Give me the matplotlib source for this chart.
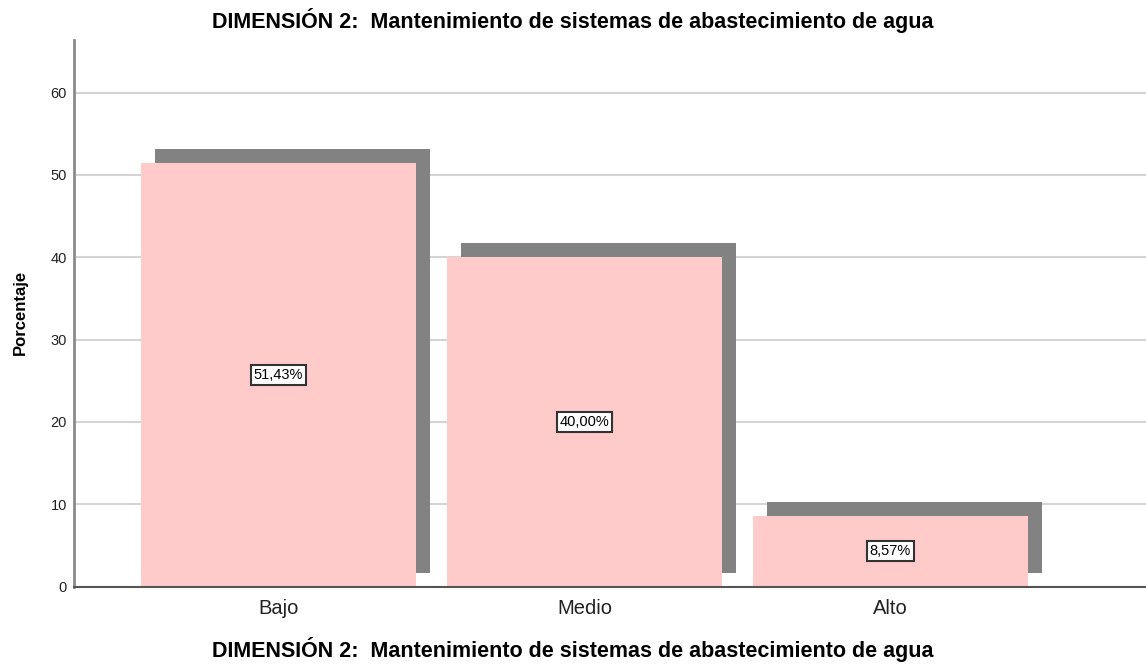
import matplotlib
matplotlib.use("Agg")
import matplotlib.pyplot as plt
from matplotlib.transforms import ScaledTranslation

categories = ["Bajo", "Medio", "Alto"]
values = [51.43, 40.00, 8.57]
labels = ["51,43%", "40,00%", "8,57%"]
yticks = [0, 10, 20, 30, 40, 50, 60]
title = "DIMENSIÓN 2:  Mantenimiento de sistemas de abastecimiento de agua"

plt.rcParams['font.family'] = ['Liberation Sans', 'DejaVu Sans']

fig = plt.figure(figsize=(11.46, 6.66), dpi=100)
ax = fig.add_axes([74/1146, (666-586.5)/666, 1 - 74/1146, (586.5-40)/666])

x = list(range(len(categories)))
width = 0.899

# shadow bars (offset up-right)
shadow = ax.bar(x, values, width=width, color="#828282", zorder=2)
off = ScaledTranslation(14/100, 14/100, fig.dpi_scale_trans)
for p in shadow.patches:
    p.set_transform(ax.transData + off)

ax.bar(x, values, width=width, color="#FFCACA", zorder=3)

for xi, v, lab in zip(x, values, labels):
    ax.text(xi, v/2, lab, ha="center", va="center", fontsize=10.5, zorder=5,
            bbox=dict(boxstyle="square,pad=0.2", fc="white", ec="#333333", lw=1.5))

ax.set_xlim(-0.668, 2.835)
ax.set_ylim(0, 66.4)
ax.set_yticks(yticks)
ax.set_xticks(x)
ax.set_xticklabels(categories, fontsize=14.5, color="#222222")
ax.tick_params(axis="y", length=0, pad=5, labelsize=10.5, colors="#222222")
ax.tick_params(axis="x", length=0, pad=9)
ax.yaxis.grid(True, color="#d4d4d4", lw=1.5, zorder=0)
ax.set_axisbelow(True)
for s in ["top", "right"]:
    ax.spines[s].set_visible(False)
ax.spines["left"].set_color("#8a8a8a")
ax.spines["left"].set_linewidth(2)
ax.spines["bottom"].set_color("#555555")
ax.spines["bottom"].set_linewidth(1.5)
ax.spines["bottom"].set_zorder(4)

fig.text(0.5, 1 - 28/666, title, ha="center", va="baseline", fontsize=15.5, fontweight="bold")
fig.text(0.5, 1 - 657/666, title, ha="center", va="baseline", fontsize=15.5, fontweight="bold")
fig.text(20/1146, (666-312)/666, "Porcentaje", rotation=90, ha="center", va="center",
         fontsize=12, fontweight="bold")

fig.savefig("out.png", dpi=100)
